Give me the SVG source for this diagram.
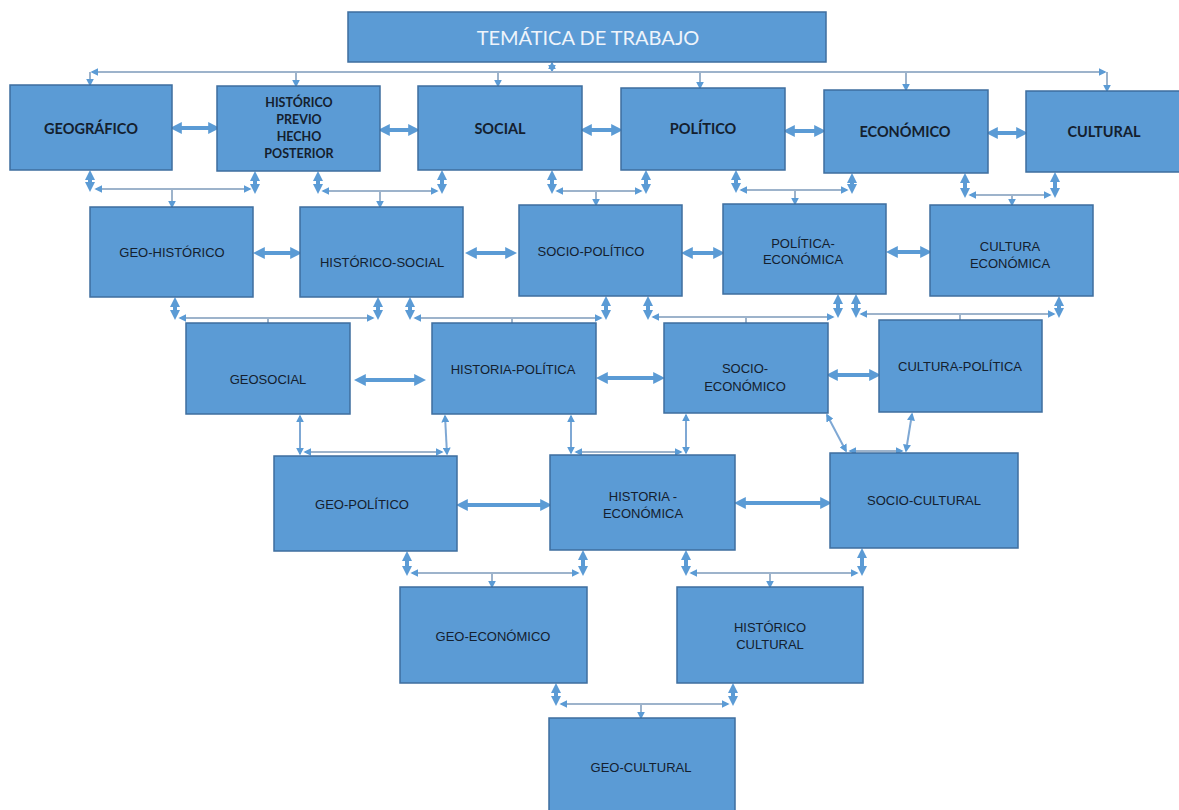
<svg xmlns="http://www.w3.org/2000/svg" width="1179" height="810" viewBox="0 0 1179 810">
<style>
.box{fill:#5B9BD5;stroke:#3E6E9E;stroke-width:1.5}
.t{font-family:"Liberation Sans",Arial,sans-serif;font-size:13px;fill:#14202e;text-anchor:middle}
.c{font-family:Lato,"Open Sans",sans-serif;font-size:14.5px;font-weight:bold;fill:#14202e;text-anchor:middle}
.title{font-family:Lato,"Open Sans",sans-serif;font-size:20px;fill:#eef4fb;text-anchor:middle}
.thick{stroke:#5B9BD5;stroke-width:4;fill:none;marker-start:url(#ah);marker-end:url(#ah)}
.thin{stroke:#9DB3CB;stroke-width:2;fill:none}
.both{marker-start:url(#as);marker-end:url(#as)}
.end{marker-end:url(#as)}
.blob{stroke:#5B9BD5;stroke-width:4;fill:none;marker-start:url(#ab);marker-end:url(#ab)}
.va{stroke:#7FA8D4;stroke-width:2;fill:none;marker-start:url(#as);marker-end:url(#as)}
</style>
<defs>
<marker id="ah" viewBox="0 0 10 10" refX="4" refY="5" markerWidth="12" markerHeight="15" markerUnits="userSpaceOnUse" orient="auto-start-reverse"><path d="M0,0 L10,5 L0,10 z" fill="#5B9BD5"/></marker>
<marker id="as" viewBox="0 0 10 10" refX="8" refY="5" markerWidth="8" markerHeight="8" markerUnits="userSpaceOnUse" orient="auto-start-reverse"><path d="M0,0 L10,5 L0,10 z" fill="#5B9BD5"/></marker>
<marker id="ab" viewBox="0 0 10 10" refX="6" refY="5" markerWidth="10" markerHeight="12" markerUnits="userSpaceOnUse" orient="auto-start-reverse"><path d="M0,0 L10,5 L0,10 z" fill="#5B9BD5"/></marker>
</defs>
<rect width="1179" height="810" fill="#ffffff"/>

<g id="connectors">
<!-- top distribution -->
<line class="va" x1="552" y1="63" x2="552" y2="71"/>
<line class="thin both" x1="92" y1="72" x2="1105" y2="72"/>
<line class="thin end" x1="90" y1="72" x2="90" y2="85"/>
<line class="thin end" x1="296" y1="72" x2="296" y2="86"/>
<line class="thin end" x1="498" y1="72" x2="498" y2="86"/>
<line class="thin end" x1="700" y1="72" x2="700" y2="88"/>
<line class="thin end" x1="906" y1="72" x2="906" y2="90"/>
<line class="thin end" x1="1107" y1="72" x2="1107" y2="91"/>
<!-- row 1 horizontals -->
<line class="thick" x1="177" y1="128" x2="213" y2="128"/>
<line class="thick" x1="385" y1="130" x2="413" y2="130"/>
<line class="thick" x1="587" y1="130" x2="616" y2="130"/>
<line class="thick" x1="790" y1="131" x2="819" y2="131"/>
<line class="thick" x1="993" y1="133" x2="1021" y2="133"/>
<!-- row1 -> row2 merges -->
<line class="blob" x1="90" y1="174" x2="90" y2="188"/>
<line class="blob" x1="255" y1="175" x2="255" y2="190"/>
<line class="thin both" x1="96" y1="189" x2="250" y2="189"/>
<line class="thin end" x1="172" y1="189" x2="172" y2="207"/>
<line class="blob" x1="318" y1="175" x2="318" y2="190"/>
<line class="blob" x1="442" y1="174" x2="442" y2="190"/>
<line class="thin both" x1="323" y1="191" x2="437" y2="191"/>
<line class="thin end" x1="380" y1="191" x2="380" y2="207"/>
<line class="blob" x1="552" y1="174" x2="552" y2="190"/>
<line class="blob" x1="646" y1="174" x2="646" y2="190"/>
<line class="thin both" x1="557" y1="191" x2="641" y2="191"/>
<line class="thin end" x1="596" y1="191" x2="596" y2="205"/>
<line class="blob" x1="736" y1="174" x2="736" y2="189"/>
<line class="blob" x1="852" y1="177" x2="852" y2="190"/>
<line class="thin both" x1="741" y1="190" x2="847" y2="190"/>
<line class="thin end" x1="795" y1="190" x2="795" y2="204"/>
<line class="blob" x1="965" y1="177" x2="965" y2="194"/>
<line class="blob" x1="1055" y1="176" x2="1055" y2="194"/>
<line class="thin both" x1="970" y1="195" x2="1050" y2="195"/>
<line class="thin end" x1="1012" y1="195" x2="1012" y2="205"/>
<!-- row 2 horizontals -->
<line class="thick" x1="260" y1="253" x2="295" y2="253"/>
<line class="thick" x1="472" y1="253" x2="510" y2="253"/>
<line class="thick" x1="688" y1="253" x2="718" y2="253"/>
<line class="thick" x1="893" y1="252" x2="925" y2="252"/>
<!-- row2 -> row3 merges -->
<line class="blob" x1="175" y1="301" x2="175" y2="316"/>
<line class="blob" x1="378" y1="301" x2="378" y2="316"/>
<line class="thin both" x1="180" y1="318" x2="373" y2="318"/>
<line class="thin" x1="268" y1="318" x2="268" y2="323"/>
<line class="blob" x1="410" y1="301" x2="410" y2="316"/>
<line class="blob" x1="606" y1="300" x2="606" y2="316"/>
<line class="thin both" x1="415" y1="318" x2="601" y2="318"/>
<line class="thin" x1="512" y1="318" x2="512" y2="323"/>
<line class="blob" x1="648" y1="300" x2="648" y2="316"/>
<line class="blob" x1="838" y1="298" x2="838" y2="314"/>
<line class="thin both" x1="653" y1="317" x2="833" y2="317"/>
<line class="thin" x1="746" y1="317" x2="746" y2="323"/>
<line class="blob" x1="856" y1="298" x2="856" y2="314"/>
<line class="blob" x1="1059" y1="300" x2="1059" y2="314"/>
<line class="thin both" x1="861" y1="314" x2="1054" y2="314"/>
<line class="thin" x1="960" y1="314" x2="960" y2="320"/>
<!-- row 3 horizontals -->
<line class="thick" x1="361" y1="380" x2="419" y2="380"/>
<line class="thick" x1="603" y1="378" x2="658" y2="378"/>
<line class="thick" x1="833" y1="375" x2="874" y2="375"/>
<!-- row3 -> row4 -->
<line class="va" x1="300" y1="416" x2="300" y2="454"/>
<line class="va" x1="445" y1="416" x2="447" y2="454"/>
<line class="thin both" x1="305" y1="452" x2="442" y2="452"/>
<line class="va" x1="571" y1="416" x2="571" y2="453"/>
<line class="va" x1="686" y1="415" x2="686" y2="453"/>
<line class="thin both" x1="576" y1="452" x2="681" y2="452"/>
<line class="va" x1="827" y1="415" x2="846" y2="451"/>
<line class="va" x1="912" y1="414" x2="906" y2="451"/>
<line class="thin both" x1="850" y1="451" x2="902" y2="451"/>
<!-- row 4 horizontals -->
<line class="thick" x1="463" y1="505" x2="545" y2="505"/>
<line class="thick" x1="741" y1="503" x2="825" y2="503"/>
<!-- row4 -> row5 merges -->
<line class="blob" x1="407" y1="555" x2="407" y2="572"/>
<line class="blob" x1="583" y1="554" x2="583" y2="572"/>
<line class="thin both" x1="412" y1="573" x2="578" y2="573"/>
<line class="thin end" x1="492" y1="573" x2="492" y2="587"/>
<line class="blob" x1="686" y1="554" x2="686" y2="572"/>
<line class="blob" x1="862" y1="552" x2="862" y2="572"/>
<line class="thin both" x1="691" y1="573" x2="857" y2="573"/>
<line class="thin end" x1="770" y1="573" x2="770" y2="587"/>
<!-- row5 -> row6 -->
<line class="blob" x1="556" y1="687" x2="556" y2="702"/>
<line class="blob" x1="733" y1="687" x2="733" y2="702"/>
<line class="thin both" x1="561" y1="704" x2="728" y2="704"/>
<line class="thin end" x1="641" y1="704" x2="641" y2="718"/>
</g>

<g id="n-tematica"><rect class="box" x="348" y="12" width="478" height="50"/><text class="title" x="588" y="45">TEMÁTICA DE TRABAJO</text></g>

<g id="n-geografico"><rect class="box" x="10" y="85" width="162" height="85"/><text class="c" x="91" y="134">GEOGRÁFICO</text></g>
<g id="n-historico"><rect class="box" x="217" y="86" width="163" height="85"/><text class="c" style="font-size:12.5px"><tspan x="299" y="107">HISTÓRICO</tspan><tspan x="299" y="124">PREVIO</tspan><tspan x="299" y="141">HECHO</tspan><tspan x="299" y="158">POSTERIOR</tspan></text></g>
<g id="n-social"><rect class="box" x="418" y="86" width="164" height="84"/><text class="c" x="500" y="134">SOCIAL</text></g>
<g id="n-politico"><rect class="box" x="621" y="88" width="164" height="82"/><text class="c" x="703" y="134">POLÍTICO</text></g>
<g id="n-economico"><rect class="box" x="824" y="90" width="164" height="83"/><text class="c" x="905" y="137">ECONÓMICO</text></g>
<g id="n-cultural"><rect class="box" x="1026" y="91" width="160" height="81"/><text class="c" x="1104" y="137">CULTURAL</text></g>

<g id="n-geohistorico"><rect class="box" x="90" y="207" width="163" height="90"/><text class="t" x="172" y="257">GEO-HISTÓRICO</text></g>
<g id="n-historicosocial"><rect class="box" x="300" y="207" width="163" height="90"/><text class="t" x="382" y="267">HISTÓRICO-SOCIAL</text></g>
<g id="n-sociopolitico"><rect class="box" x="519" y="205" width="163" height="91"/><text class="t" x="591" y="256">SOCIO-POLÍTICO</text></g>
<g id="n-politicaeconomica"><rect class="box" x="723" y="204" width="163" height="90"/><text class="t"><tspan x="803" y="248">POLÍTICA-</tspan><tspan x="803" y="264">ECONÓMICA</tspan></text></g>
<g id="n-culturaeconomica"><rect class="box" x="930" y="205" width="163" height="91"/><text class="t"><tspan x="1010" y="251">CULTURA</tspan><tspan x="1010" y="268">ECONÓMICA</tspan></text></g>

<g id="n-geosocial"><rect class="box" x="186" y="323" width="164" height="91"/><text class="t" x="268" y="384">GEOSOCIAL</text></g>
<g id="n-historiapolitica"><rect class="box" x="432" y="323" width="164" height="91"/><text class="t" x="513" y="374">HISTORIA-POLÍTICA</text></g>
<g id="n-socioeconomico"><rect class="box" x="664" y="323" width="164" height="90"/><text class="t"><tspan x="745" y="373">SOCIO-</tspan><tspan x="745" y="391">ECONÓMICO</tspan></text></g>
<g id="n-culturapolitica"><rect class="box" x="879" y="320" width="163" height="92"/><text class="t" x="960" y="371">CULTURA-POLÍTICA</text></g>

<g id="n-geopolitico"><rect class="box" x="274" y="456" width="183" height="95"/><text class="t" x="362" y="509">GEO-POLÍTICO</text></g>
<g id="n-historiaeconomica"><rect class="box" x="550" y="455" width="185" height="95"/><text class="t"><tspan x="643" y="501">HISTORIA -</tspan><tspan x="643" y="518">ECONÓMICA</tspan></text></g>
<g id="n-sociocultural"><rect class="box" x="830" y="453" width="188" height="95"/><text class="t" x="924" y="505">SOCIO-CULTURAL</text></g>

<g id="n-geoeconomico"><rect class="box" x="400" y="587" width="187" height="96"/><text class="t" x="493" y="641">GEO-ECONÓMICO</text></g>
<g id="n-historicocultural"><rect class="box" x="677" y="587" width="186" height="96"/><text class="t"><tspan x="770" y="632">HISTÓRICO</tspan><tspan x="770" y="649">CULTURAL</tspan></text></g>

<g id="n-geocultural"><rect class="box" x="549" y="718" width="186" height="100"/><text class="t" x="641" y="772">GEO-CULTURAL</text></g>
</svg>
